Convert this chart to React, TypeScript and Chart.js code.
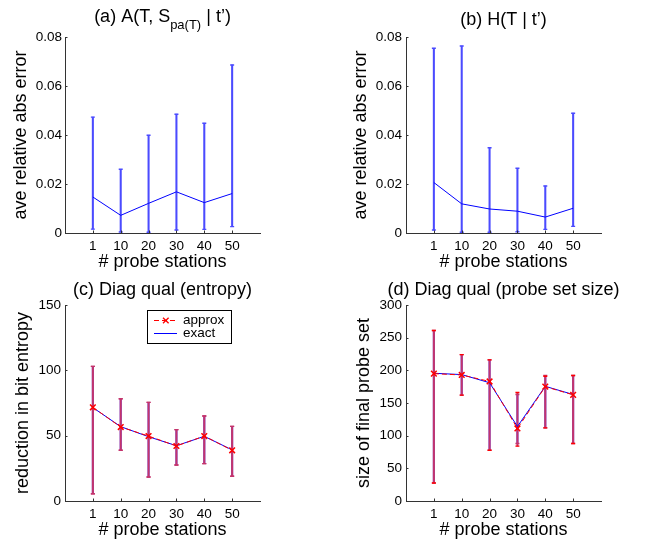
import React, { useEffect, useRef } from 'react';
import { Chart, registerables } from 'chart.js';

Chart.register(...registerables);

// ---------- data ----------
const categories = ['1', '10', '20', '30', '40', '50'];

const aMean = [0.0147, 0.0072, 0.0121, 0.0168, 0.0124, 0.0161];
const aUpper = [0.0473, 0.026, 0.0399, 0.0485, 0.0448, 0.0686];
const aLower = [0.0016, 0.0004, 0.0003, 0.0012, 0.0015, 0.0026];

const bMean = [0.0206, 0.0119, 0.0098, 0.0089, 0.0065, 0.0101];
const bUpper = [0.0754, 0.0763, 0.0348, 0.0264, 0.0192, 0.0489];
const bLower = [0.0012, 0.0003, 0.0003, 0.0005, 0.0015, 0.0027];

const cApproxMean = [71.7, 56.6, 49.7, 42.1, 49.7, 38.8];
const cExactMean = [71.5, 56.9, 49.2, 42.3, 49.5, 39.1];
const cUpper = [103.0, 78.3, 75.5, 54.6, 65.0, 57.1];
const cLower = [5.6, 38.8, 18.4, 27.6, 28.6, 18.9];

const dApproxMean = [194.9, 192.9, 183.0, 111.0, 175.0, 162.5];
const dExactMean = [195.5, 193.5, 181.0, 114.0, 175.5, 163.0];
const dApproxUpper = [261.0, 224.0, 216.0, 166.0, 191.0, 192.0];
const dApproxLower = [27.6, 162.0, 77.6, 84.0, 112.0, 88.0];
const dExactUpper = [261.0, 224.0, 216.0, 163.0, 192.0, 192.0];
const dExactLower = [27.6, 162.0, 77.6, 88.0, 112.0, 88.0];

const yTicksAB = [0, 0.02, 0.04, 0.06, 0.08];
const yTicksC = [0, 50, 100, 150];
const yTicksD = [0, 50, 100, 150, 200, 250, 300];

const titleA = [
  { text: '(a) A(T, S', sub: false },
  { text: 'pa(T)', sub: true },
  { text: ' | t\u2019)', sub: false },
];
const titleB = [{ text: '(b) H(T | t\u2019)', sub: false }];
const titleC = [{ text: '(c) Diag qual (entropy)', sub: false }];
const titleD = [{ text: '(d) Diag qual (probe set size)', sub: false }];

const legendLabels = ['approx', 'exact'];

// ---------- styling ----------
const FONT = '"Liberation Sans", Arial, Helvetica, sans-serif';
const W = 324;
const H = 271;
const BLUE = '#0000ff';
const RED = '#ff0000';
const BAR_BLUE = 'rgb(75,75,255)';
const BAR_MIX = '#c4346c';

type Series = {
  mean: number[];
  upper: number[];
  lower: number[];
  line: string;
  bar: string;
  cap: string;
  dash?: number[];
  marker?: boolean;
};

type Panel = {
  left: number;
  top: number;
  area: { l: number; r: number; t: number; b: number };
  yTicks: number[];
  yLabel: string;
  yTitlePad: number;
  xTitlePad: number;
  tickPad: number;
  title: { text: string; sub: boolean }[];
  titleBase: number;
  series: Series[];
  legend?: boolean;
};

const panels: Panel[] = [
  {
    left: 0, top: 0,
    area: { l: 65, r: 260, t: 37, b: 233 },
    yTicks: yTicksAB, yLabel: 'ave relative abs error',
    yTitlePad: 12, xTitlePad: 0, tickPad: 3,
    title: titleA, titleBase: 22,
    series: [{ mean: aMean, upper: aUpper, lower: aLower, line: BLUE, bar: BAR_BLUE, cap: BAR_BLUE }],
  },
  {
    left: 324, top: 0,
    area: { l: 82, r: 277, t: 37, b: 233 },
    yTicks: yTicksAB, yLabel: 'ave relative abs error',
    yTitlePad: 28, xTitlePad: 0, tickPad: 4,
    title: titleB, titleBase: 25,
    series: [{ mean: bMean, upper: bUpper, lower: bLower, line: BLUE, bar: BAR_BLUE, cap: BAR_BLUE }],
  },
  {
    left: 0, top: 271,
    area: { l: 65, r: 260, t: 34, b: 230 },
    yTicks: yTicksC, yLabel: 'reduction in bit entropy',
    yTitlePad: 14, xTitlePad: 3, tickPad: 4,
    title: titleC, titleBase: 23.5,
    legend: true,
    series: [
      { mean: cApproxMean, upper: cUpper, lower: cLower, line: RED, bar: BAR_MIX, cap: BAR_MIX, dash: [5, 3], marker: true },
      { mean: cExactMean, upper: cUpper, lower: cLower, line: BLUE, bar: BAR_BLUE, cap: BAR_MIX },
    ],
  },
  {
    left: 324, top: 271,
    area: { l: 82, r: 277, t: 34, b: 230 },
    yTicks: yTicksD, yLabel: 'size of final probe set',
    yTitlePad: 31, xTitlePad: 3, tickPad: 4,
    title: titleD, titleBase: 23.5,
    series: [
      { mean: dApproxMean, upper: dApproxUpper, lower: dApproxLower, line: RED, bar: BAR_MIX, cap: RED, dash: [5, 3], marker: true },
      { mean: dExactMean, upper: dExactUpper, lower: dExactLower, line: BLUE, bar: BAR_BLUE, cap: BAR_MIX },
    ],
  },
];

const pad = (arr: any[]) => [null, ...arr, null];

// Lower "order" is drawn on top in Chart.js
function buildDatasets(p: Panel) {
  const ds: any[] = [];
  p.series.forEach((s, k) => {
    ds.push({
      type: 'bar',
      data: pad(s.lower.map((lo, i) => [lo, s.upper[i]])),
      backgroundColor: s.bar,
      borderWidth: 0,
      barThickness: 1.4,
      grouped: false,
      order: 20 + k,
    });
    [s.upper, s.lower].forEach((vals) => {
      ds.push({
        type: 'line',
        data: pad(vals),
        showLine: false,
        pointStyle: 'line',
        pointRadius: 2,
        pointHoverRadius: 2,
        pointBorderWidth: 1.4,
        pointBorderColor: s.cap,
        borderColor: s.cap,
        order: 10 + k,
      });
    });
    ds.push({
      type: 'line',
      data: pad(s.mean),
      borderColor: s.line,
      borderWidth: 1,
      borderDash: s.dash || [],
      pointStyle: 'crossRot',
      pointRadius: s.marker ? 4 : 0,
      pointHoverRadius: s.marker ? 4 : 0,
      pointBorderWidth: 1.5,
      pointBorderColor: s.line,
      pointBackgroundColor: s.line,
      fill: false,
      tension: 0,
      order: k,
    });
  });
  return ds;
}

function makeOverlay(p: Panel) {
  return {
    id: 'overlay',
    afterDraw(chart: any) {
      const ctx = chart.ctx as CanvasRenderingContext2D;
      const ca = chart.chartArea;
      const xs = chart.scales.x;
      const ys = chart.scales.y;
      ctx.save();
      // inward ticks
      ctx.strokeStyle = '#333';
      ctx.lineWidth = 1;
      ctx.beginPath();
      p.yTicks.forEach((v) => {
        const y = Math.round(ys.getPixelForValue(v)) + 0.5;
        ctx.moveTo(ca.left, y);
        ctx.lineTo(ca.left + 2.5, y);
      });
      categories.forEach((_, i) => {
        const x = Math.round(xs.getPixelForValue(i + 1)) + 0.5;
        ctx.moveTo(x, ca.bottom);
        ctx.lineTo(x, ca.bottom - 2.5);
      });
      ctx.stroke();

      // title
      const mainSize = 18;
      const subSize = 13;
      let total = 0;
      const widths = p.title.map((seg) => {
        ctx.font = `${seg.sub ? subSize : mainSize}px ${FONT}`;
        const w = ctx.measureText(seg.text).width;
        total += w;
        return w;
      });
      let x = (ca.left + ca.right) / 2 - total / 2;
      ctx.fillStyle = '#000';
      ctx.textAlign = 'left';
      ctx.textBaseline = 'alphabetic';
      p.title.forEach((seg, i) => {
        ctx.font = `${seg.sub ? subSize : mainSize}px ${FONT}`;
        ctx.fillText(seg.text, x, p.titleBase + (seg.sub ? 7 : 0));
        x += widths[i];
      });

      // legend
      if (p.legend) {
        const bx = 147.5, by = 39.5, bw = 84, bh = 33;
        ctx.fillStyle = '#fff';
        ctx.fillRect(bx, by, bw, bh);
        ctx.strokeStyle = '#000';
        ctx.lineWidth = 1;
        ctx.strokeRect(bx, by, bw, bh);
        const rows = [
          { y: 49.5, color: RED, dash: [5, 3], marker: true },
          { y: 62.5, color: BLUE, dash: [] as number[], marker: false },
        ];
        rows.forEach((r, i) => {
          ctx.strokeStyle = r.color;
          ctx.lineWidth = 1;
          ctx.setLineDash(r.dash);
          ctx.beginPath();
          ctx.moveTo(154, r.y);
          ctx.lineTo(177, r.y);
          ctx.stroke();
          ctx.setLineDash([]);
          if (r.marker) {
            ctx.lineWidth = 1.3;
            ctx.beginPath();
            ctx.moveTo(163, r.y - 2.8);
            ctx.lineTo(168.6, r.y + 2.8);
            ctx.moveTo(163, r.y + 2.8);
            ctx.lineTo(168.6, r.y - 2.8);
            ctx.stroke();
          }
          ctx.fillStyle = '#000';
          ctx.font = `13.5px ${FONT}`;
          ctx.textBaseline = 'middle';
          ctx.fillText(legendLabels[i], 183, r.y);
        });
      }
      ctx.restore();
    },
  };
}

function PanelChart({ p }: { p: Panel }) {
  const ref = useRef<HTMLCanvasElement | null>(null);
  useEffect(() => {
    if (!ref.current) return;
    const tickFont = { family: FONT, size: 13.5, lineHeight: 1.2 };
    const titleFont = { family: FONT, size: 18, lineHeight: 1 };
    const chart = new Chart(ref.current, {
      type: 'bar',
      data: {
        labels: ['', ...categories, ''],
        datasets: buildDatasets(p),
      },
      options: {
        animation: false,
        responsive: false,
        devicePixelRatio: 1,
        events: [],
        layout: {
          padding: { left: 0, top: p.area.t, right: W - p.area.r, bottom: 0 },
        },
        plugins: {
          legend: { display: false },
          title: { display: false },
          tooltip: { enabled: false },
        },
        scales: {
          x: {
            type: 'category',
            offset: false,
            grid: { display: true, drawOnChartArea: false, drawTicks: false, offset: false },
            border: { display: true, color: '#333', width: 1 },
            ticks: { font: tickFont, color: '#000', padding: 5, maxRotation: 0, autoSkip: false },
            title: {
              display: true,
              text: '# probe stations',
              color: '#000',
              font: titleFont,
              padding: { top: 0, bottom: p.xTitlePad },
            },
            afterFit: (s: any) => {
              s.height = H - p.area.b;
            },
          },
          y: {
            type: 'linear',
            min: p.yTicks[0],
            max: p.yTicks[p.yTicks.length - 1],
            afterBuildTicks: (s: any) => {
              s.ticks = p.yTicks.map((v) => ({ value: v }));
            },
            grid: { display: true, drawOnChartArea: false, drawTicks: false },
            border: { display: true, color: '#333', width: 1 },
            ticks: {
              font: tickFont,
              color: '#000',
              padding: p.tickPad,
              callback: (v: any) => String(Number(v)),
            },
            title: {
              display: true,
              text: p.yLabel,
              color: '#000',
              font: titleFont,
              padding: { top: p.yTitlePad, bottom: 0 },
            },
            afterFit: (s: any) => {
              s.width = p.area.l;
            },
          },
        },
      } as any,
      plugins: [makeOverlay(p)],
    });
    return () => chart.destroy();
  }, [p]);
  return (
    <canvas
      ref={ref}
      width={W}
      height={H}
      style={{ position: 'absolute', left: p.left, top: p.top, width: W, height: H }}
    />
  );
}

export default function App() {
  return (
    <div style={{ position: 'fixed', left: 0, top: 0, width: 648, height: 542, background: '#fff' }}>
      {panels.map((p, i) => (
        <PanelChart key={i} p={p} />
      ))}
    </div>
  );
}
